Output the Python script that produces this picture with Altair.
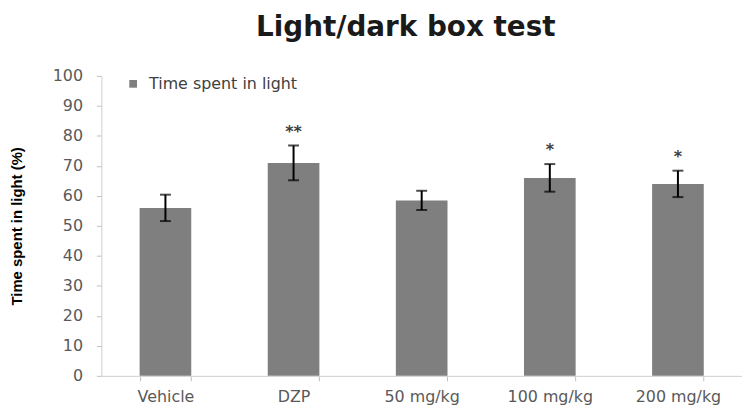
import altair as alt
import pandas as pd

groups = ["Vehicle", "DZP", "50 mg/kg", "100 mg/kg", "200 mg/kg"]
means = [56.0, 71.0, 58.5, 66.0, 64.0]
sems = [4.4, 5.8, 3.2, 4.6, 4.4]
stars = ["", "**", "", "*", "*"]
series_name = "Time spent in light"
y_ticks = list(range(0, 101, 10))

df = pd.DataFrame({
    "group": groups,
    "mean": means,
    "sem": sems,
    "star": stars,
    "series": [series_name] * len(groups),
})
df["lo"] = df["mean"] - df["sem"]
df["hi"] = df["mean"] + df["sem"]

xaxis = alt.Axis(labelAngle=0, labelFont="DejaVu Sans", labelFontSize=16,
                 labelColor="#595959", labelPadding=8, tickBand="extent",
                 tickSize=5, tickColor="#bfbfbf", domainColor="#d0d0d0", grid=False)
xenc = alt.X("group:N", sort=groups, title=None,
             scale=alt.Scale(paddingInner=0.6, paddingOuter=0.3), axis=xaxis)

yaxis = alt.Axis(values=y_ticks, title="Time spent in light (%)", labelOverlap=False,
                 titleFont="Liberation Sans", titleFontSize=15,
                 titleFontWeight="bold", titleColor="#000000",
                 titleX=-77, titleY=151, titleAngle=-90,
                 labelFont="DejaVu Sans", labelFontSize=16, labelColor="#595959",
                 labelPadding=14, tickSize=5, tickColor="#bfbfbf",
                 domainColor="#d0d0d0", grid=False)
yscale = alt.Scale(domain=[0, 100])

base = alt.Chart(df)

bars = base.mark_bar(size=52).encode(
    x=xenc,
    y=alt.Y("mean:Q", scale=yscale, axis=yaxis),
    color=alt.Color("series:N", scale=alt.Scale(range=["#7f7f7f"]),
                    legend=alt.Legend(title=None, orient="none", legendX=24, legendY=0,
                                      symbolType="square", symbolSize=60,
                                      labelFont="DejaVu Sans", labelFontSize=16,
                                      labelColor="#404040", labelOffset=8, padding=0)),
)

rules = base.mark_rule(color="#000000", strokeWidth=2).encode(
    x=xenc, y=alt.Y("lo:Q", scale=yscale, axis=yaxis), y2="hi:Q")
caps_lo = base.mark_tick(color="#000000", thickness=2, size=11).encode(
    x=xenc, y=alt.Y("lo:Q", scale=yscale, axis=yaxis))
caps_hi = base.mark_tick(color="#000000", thickness=2, size=11).encode(
    x=xenc, y=alt.Y("hi:Q", scale=yscale, axis=yaxis))
star_text = base.mark_text(font="DejaVu Sans", fontSize=16, fontWeight="bold",
                           color="#404040", baseline="middle", dy=-14).encode(
    x=xenc, y=alt.Y("hi:Q", scale=yscale, axis=yaxis), text="star:N")

chart = alt.layer(bars, rules, caps_lo, caps_hi, star_text).properties(
    width=645, height=302,
    autosize=alt.AutoSizeParams(type="none"),
    padding={"left": 94, "top": 67, "right": 0, "bottom": 30},
    title=alt.TitleParams("Light/dark box test", font="DejaVu Sans", fontSize=28,
                          fontWeight="bold", color="#1a1a1a", anchor="middle",
                          dx=-16, offset=26),
).configure_view(stroke=None)

chart.save("out.html", embed_options={"renderer": "svg", "actions": False})
